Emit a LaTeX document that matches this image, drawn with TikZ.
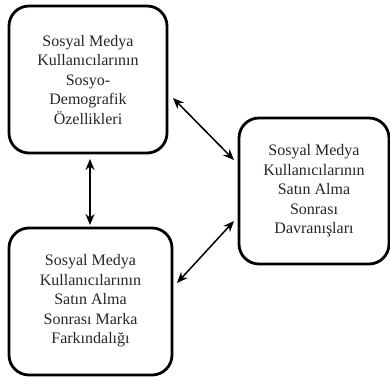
\documentclass[tikz,border=0pt]{standalone}
\usepackage{fontspec}
\setmainfont{Liberation Serif}
\usetikzlibrary{arrows.meta}
\begin{document}
\begin{tikzpicture}[x=1pt,y=-1pt,
  box/.style={draw=black,line width=2.8pt,rounded corners=20pt,fill=white},
  lbl/.style={align=center,font=\fontsize{16}{19.5}\selectfont,text=black!85},
  link/.style={line width=1.5pt,{Stealth[length=11pt,width=9pt]}-{Stealth[length=11pt,width=9pt]}}]
\useasboundingbox (0,0) rectangle (390,380);
\draw[box] (9,6) rectangle (167,153);
\draw[box] (9,228) rectangle (172,375);
\draw[box] (239,118) rectangle (389,264);
\node[lbl] (a) at (88,80) {Sosyal Medya\\Kullanıcılarının\\Sosyo-\\Demografik\\Özellikleri};
\node[lbl] (b) at (90.5,301) {Sosyal Medya\\Kullanıcılarının\\Satın Alma\\Sonrası Marka\\Farkındalığı};
\node[lbl] (c) at (314,191) {Sosyal Medya\\Kullanıcılarının\\Satın Alma\\Sonrası\\Davranışları};
\coordinate (a1) at (90,159);
\coordinate (b1) at (90,225);
\coordinate (a2) at (173,98);
\coordinate (c1) at (234,160);
\coordinate (c2) at (234,221);
\coordinate (b2) at (177,283);
\draw[link] (a1) -- (b1);
\draw[link] (a2) -- (c1);
\draw[link] (c2) -- (b2);
\end{tikzpicture}
\end{document}
